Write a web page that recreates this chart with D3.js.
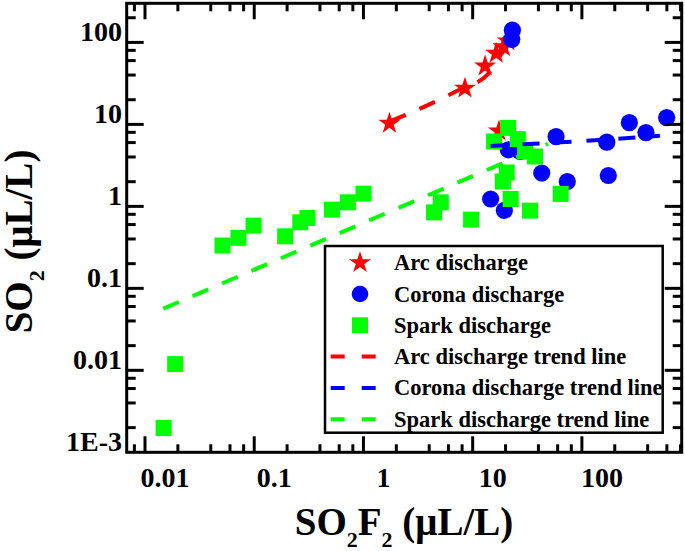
<!DOCTYPE html>
<html>
<head>
<meta charset="utf-8">
<script src="https://cdn.jsdelivr.net/npm/d3@7"></script>
<style>
  body { margin: 0; background: #fff; }
  text { font-family: "Liberation Serif", "Times New Roman", serif; font-weight: bold; }
</style>
</head>
<body>
<svg id="chart" width="685" height="551"></svg>
<script>
// values
var arcX = [1.73, 8.5, 13.0, 16.4, 19.1, 21.0, 17.4];
var arcY = [10.3, 27.6, 51.5, 73.5, 88.4, 104, 8.3];

var coronaX = [23.1, 22.8, 58, 169, 272, 386, 597, 21.2, 27.2, 42.9, 73.5, 174.5, 14.6, 19.5];
var coronaY = [141, 109, 7.1, 6.07, 10.5, 7.95, 12.1, 4.9, 4.67, 2.55, 2.01, 2.38, 1.23, 0.894];

var sparkX = [0.0148, 0.0189, 0.0513, 0.0718, 0.0986, 0.192, 0.264, 0.307, 0.514, 0.720, 1.0,
              4.43, 5.11, 9.67, 18.9, 20.5, 22.3, 33.5, 64, 15.7, 21.1, 25.9, 30.2, 37.2];
var sparkY = [0.00198, 0.0119, 0.333, 0.413, 0.582, 0.431, 0.639, 0.723, 0.912, 1.12, 1.43,
              0.845, 1.12, 0.689, 2.01, 2.59, 1.23, 0.887, 1.42, 6.18, 9.07, 6.61, 4.67, 4.06];

var arcTrendX = [1.75, 4.3, 7.7, 13.8, 16.7, 20.5];
var arcTrendY = [10.9, 18.3, 26.8, 41, 61, 88];
var coronaTrendX = [14.6, 83.4, 518];
var coronaTrendY = [5.46, 6.18, 7.25];
var sparkTrendX = [0.0147, 49];
var sparkTrendY = [0.0565, 5.8];

var xTicks = [0.01, 0.1, 1, 10, 100];
var xTickLabels = ['0.01', '0.1', '1', '10', '100'];
var yTicks = [0.001, 0.01, 0.1, 1, 10, 100];
var yTickLabels = ['1E-3', '0.01', '0.1', '1', '10', '100'];

var legendItems = [
    { label: 'Arc discharge', kind: 'star', color: '#ff0000' },
    { label: 'Corona discharge', kind: 'circle', color: '#0000ff' },
    { label: 'Spark discharge', kind: 'square', color: '#00ff00' },
    { label: 'Arc discharge trend line', kind: 'line', color: '#ff0000' },
    { label: 'Corona discharge trend line', kind: 'line', color: '#0000ff' },
    { label: 'Spark discharge trend line', kind: 'line', color: '#00ff00' }
];

var plotLeft = 126.7, plotRight = 681.7, plotTop = 3.3, plotBottom = 452.3;
var svg = d3.select('#chart');

var x = d3.scaleLog().domain([0.0068, 820]).range([plotLeft, plotRight]);
var y = d3.scaleLog().domain([0.001, 300]).range([plotBottom, plotTop]);

function zip(xs, ys) {
    return xs.map(function(v, i) { return [v, ys[i]]; });
}

// minor ticks at 2,4,6,8 of each decade
function minorTicks(scale) {
    var d = scale.domain(), out = [];
    for (var e = -4; e <= 4; e++) {
        [2, 4, 6, 8].forEach(function(m) {
            var v = m * Math.pow(10, e);
            if (v > d[0] && v < d[1]) out.push(v);
        });
    }
    return out;
}

var starPath = d3.symbol().type(d3.symbolStar).size(150);
var circlePath = d3.symbol().type(d3.symbolCircle).size(Math.PI * 8.6 * 8.6);
var squarePath = d3.symbol().type(d3.symbolSquare).size(16 * 16);

// points
svg.append('g').selectAll('path').data(zip(arcX, arcY)).enter().append('path')
    .attr('d', starPath)
    .attr('transform', function(d) { return 'translate(' + x(d[0]) + ',' + y(d[1]) + ')'; })
    .attr('fill', '#ff0000');
svg.append('g').selectAll('path').data(zip(coronaX, coronaY)).enter().append('path')
    .attr('d', circlePath)
    .attr('transform', function(d) { return 'translate(' + x(d[0]) + ',' + y(d[1]) + ')'; })
    .attr('fill', '#0000ff');
svg.append('g').selectAll('path').data(zip(sparkX, sparkY)).enter().append('path')
    .attr('d', squarePath)
    .attr('transform', function(d) { return 'translate(' + x(d[0]) + ',' + y(d[1]) + ')'; })
    .attr('fill', '#00ff00');

// trend lines
var line = d3.line()
    .x(function(d) { return x(d[0]); })
    .y(function(d) { return y(d[1]); })
    .curve(d3.curveMonotoneX);

[[arcTrendX, arcTrendY, '#ff0000'], [coronaTrendX, coronaTrendY, '#0000ff'], [sparkTrendX, sparkTrendY, '#00ff00']]
    .forEach(function(t) {
        svg.append('path')
            .attr('d', line(zip(t[0], t[1])))
            .attr('fill', 'none')
            .attr('stroke', t[2])
            .attr('stroke-width', 4)
            .attr('stroke-dasharray', '17,15');
    });

// frame and ticks (all inward)
var axes = svg.append('g').attr('stroke', '#000').attr('stroke-width', 3);
axes.append('rect')
    .attr('x', plotLeft).attr('y', plotTop)
    .attr('width', plotRight - plotLeft).attr('height', plotBottom - plotTop)
    .attr('fill', 'none');

function xTickMarks(values, len) {
    values.forEach(function(v) {
        axes.append('line').attr('x1', x(v)).attr('x2', x(v)).attr('y1', plotBottom).attr('y2', plotBottom - len);
        axes.append('line').attr('x1', x(v)).attr('x2', x(v)).attr('y1', plotTop).attr('y2', plotTop + len);
    });
}
function yTickMarks(values, len) {
    values.forEach(function(v) {
        axes.append('line').attr('y1', y(v)).attr('y2', y(v)).attr('x1', plotLeft).attr('x2', plotLeft + len);
        axes.append('line').attr('y1', y(v)).attr('y2', y(v)).attr('x1', plotRight).attr('x2', plotRight - len);
    });
}
xTickMarks(xTicks, 16);
xTickMarks(minorTicks(x), 8);
yTickMarks(yTicks.filter(function(v) { return v > 0.001; }), 17);
yTickMarks(minorTicks(y), 9);

// tick labels (offset as in the reference)
svg.append('g').selectAll('text').data(xTicks).enter().append('text')
    .attr('x', function(d) { return x(d) + 20; })
    .attr('y', 487)
    .attr('text-anchor', 'middle')
    .attr('font-size', 28)
    .text(function(d, i) { return xTickLabels[i]; });
svg.append('g').selectAll('text').data(yTicks).enter().append('text')
    .attr('x', 122)
    .attr('y', function(d) { return y(d) - 1.5; })
    .attr('text-anchor', 'end')
    .attr('font-size', 28)
    .text(function(d, i) { return yTickLabels[i]; });

// axis titles
var xt = svg.append('text').attr('x', 404).attr('y', 535).attr('text-anchor', 'middle').attr('font-size', 39);
xt.append('tspan').text('SO');
xt.append('tspan').attr('font-size', 22).attr('dy', 12).text('2');
xt.append('tspan').attr('dy', -12).text('F');
xt.append('tspan').attr('font-size', 22).attr('dy', 12).text('2');
xt.append('tspan').attr('dy', -12).text(' (\u03bcL/L)');

var yt = svg.append('text').attr('transform', 'translate(32,241.5) rotate(-90)')
    .attr('text-anchor', 'middle').attr('font-size', 39);
yt.append('tspan').text('SO');
yt.append('tspan').attr('font-size', 22).attr('dy', 12).text('2');
yt.append('tspan').attr('dy', -12).text(' (\u03bcL/L)');

// legend
var lg = svg.append('g');
lg.append('rect')
    .attr('x', 325).attr('y', 246).attr('width', 337.7).attr('height', 186.7)
    .attr('fill', '#fff').attr('stroke', '#000').attr('stroke-width', 2.5);
legendItems.forEach(function(item, i) {
    var cy = 262.7 + i * 31.3;
    if (item.kind === 'line') {
        lg.append('line')
            .attr('x1', 330.7).attr('x2', 376.7).attr('y1', cy).attr('y2', cy)
            .attr('stroke', item.color).attr('stroke-width', 4)
            .attr('stroke-dasharray', '14,17');
    } else {
        var p = item.kind === 'star' ? starPath : item.kind === 'circle'
            ? d3.symbol().type(d3.symbolCircle).size(Math.PI * 8.3 * 8.3) : squarePath;
        lg.append('path').attr('d', p)
            .attr('transform', 'translate(360,' + cy + ')')
            .attr('fill', item.color);
    }
    lg.append('text')
        .attr('x', 394).attr('y', cy + 7.5)
        .attr('font-size', 22.5)
        .text(item.label);
});
</script>
</body>
</html>
